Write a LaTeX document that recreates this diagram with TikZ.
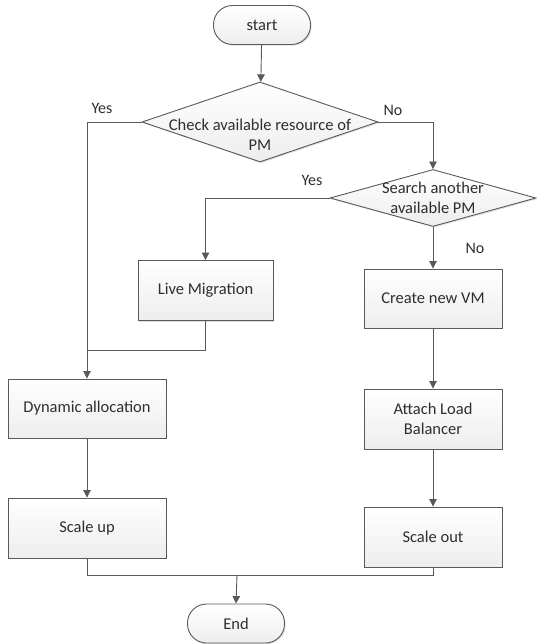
\documentclass[tikz,border=0pt]{standalone}
\usepackage{fontspec}
\setmainfont{Carlito}
\usetikzlibrary{arrows.meta,positioning,shapes.geometric,shadows}
\definecolor{lineg}{HTML}{595959}
\definecolor{textg}{HTML}{2E2E2E}

\begin{document}
\begin{tikzpicture}[x=1pt,y=-1pt,
   every node/.style={font=\fontsize{16.5}{20}\selectfont,text=textg},
   blk/.style={draw=lineg,line width=0.9pt,rectangle,align=center,
               top color=white,bottom color=gray!14,
               drop shadow={shadow xshift=1.2pt,shadow yshift=-1.2pt,opacity=0.25}},
   proc/.style={blk,minimum height=60pt},
   term/.style={blk,rounded corners=19pt,minimum height=39pt,minimum width=97pt},
   dec/.style={blk,diamond,inner sep=0pt},
   lbl/.style={font=\fontsize{16}{19}\selectfont},
   arr/.style={-{Triangle[length=7.5pt,width=7.5pt]},line width=0.9pt,lineg},
   ln/.style={line width=0.9pt,lineg}
]
\useasboundingbox (0,0) rectangle (536,644);

% Start and first test
\node[term] (start) at (262,25) {start};
\node[dec,minimum width=236pt,minimum height=80pt,
      label={[align=center,yshift=-13pt]center:Check available resource of\\PM}] (check) at (260,122) {};

% Second test
\node[dec,minimum width=206pt,minimum height=57pt,
      label={[align=center]center:Search another\\available PM}] (search) at (433,198) {};

% Process boxes
\node[proc,minimum width=135pt] (live) at (205.5,290.5) {Live Migration};
\node[proc,minimum width=138pt,minimum height=59pt] (create) at (433,298.5) {Create new VM};
\node[proc,minimum width=138pt] (attach) at (433,419) {Attach Load\\Balancer};
\node[proc,minimum width=138pt] (sout) at (433,537) {Scale out};
\node[proc,minimum width=158pt,minimum height=59pt] (dyn) at (87,408.5) {Dynamic allocation};
\node[proc,minimum width=158pt] (sup) at (87,528) {Scale up};
\node[term] (stop) at (236,623.5) {End};

% Branch labels
\node[lbl] (yes1) at (102,108) {Yes};
\node[lbl] (no1) at (393,110) {No};
\node[lbl] (yes2) at (312,180) {Yes};
\node[lbl] (no2) at (475,248) {No};

% Joins
\coordinate (join) at (87,350);
\coordinate (merge) at (237,575);

\draw[arr] (start) -- (check);
\draw[arr] (check.west) -| (dyn.north);
\draw[arr] (check.east) -| (search.north);
\draw[arr] (search.west) -| (live.north);
\draw[arr] (search.south) -- (create.north);
\draw[ln] (live.south) |- (join);
\draw[arr] (create) -- (attach);
\draw[arr] (attach) -- (sout);
\draw[arr] (dyn) -- (sup);
\draw[ln] (sup.south) |- (merge);
\draw[ln] (sout.south) |- (merge);
\draw[arr] (merge) -- (stop.north);

\end{tikzpicture}
\end{document}
